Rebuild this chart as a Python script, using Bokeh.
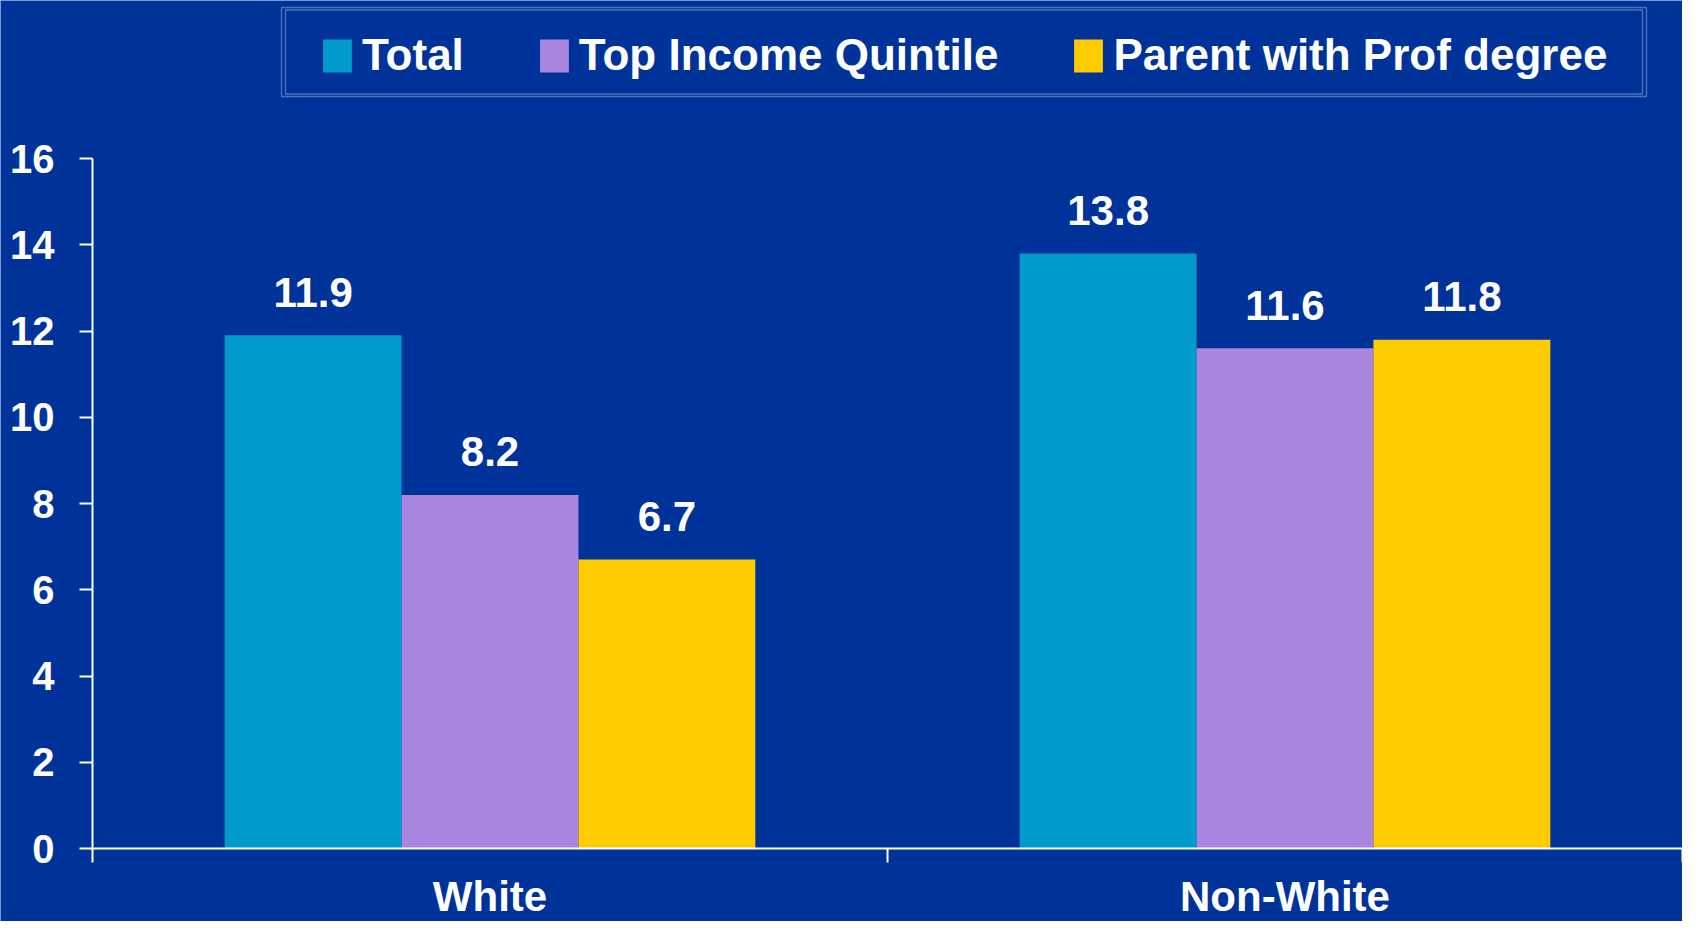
import numpy as np
from bokeh.plotting import figure
from bokeh.models import (Range1d, FixedTicker, LinearAxis, Legend, LegendItem,
                          BoxAnnotation, ColumnDataSource)
from bokeh.core.properties import value
from bokeh.embed import file_html
from bokeh.resources import INLINE

# ---- data ----
categories = ["White", "Non-White"]
series = ["Total", "Top Income Quintile", "Parent with Prof degree"]
total = [11.9, 13.8]
top_income = [8.2, 11.6]
prof_parent = [6.7, 11.8]
y_ticks = [0, 2, 4, 6, 8, 10, 12, 14, 16]
y_max = 16

# ---- style / layout ----
BG = "#003399"
COLORS = ["#009ACD", "#A886DF", "#FFCC00"]
FONT = "Liberation Sans"
W, H = 1682, 921
AXIS_X = 92                    # canvas x of the value axis
AXIS_Y = 848                   # canvas y of the value-0 line
AXIS_TOP_GAP = 158             # canvas y of the value-16 line (legend area above)
n = len(categories)
px_per_y = (AXIS_Y - AXIS_TOP_GAP) / y_max
px_per_x = (W - AXIS_X) / n
x_start = -AXIS_X / px_per_x
y_start = -(H - AXIS_Y) / px_per_y
y_end = AXIS_Y / px_per_y

p = figure(width=W, height=H, output_backend="svg", toolbar_location=None,
           x_range=Range1d(x_start, n), y_range=Range1d(y_start, y_end),
           x_axis_location=None, y_axis_location=None,
           min_border_left=0, min_border_right=0, min_border_top=0,
           min_border_bottom=0,
           background_fill_color=BG, border_fill_color=BG, outline_line_color=None)
p.grid.visible = False

yaxis = LinearAxis(ticker=FixedTicker(ticks=y_ticks), bounds=(0, y_max),
                   fixed_location=0,
                   axis_line_color="white", axis_line_width=2,
                   major_tick_line_color="white", major_tick_line_width=2,
                   major_tick_in=0, major_tick_out=13,
                   minor_tick_line_color=None,
                   major_label_text_color="white", major_label_text_font=FONT,
                   major_label_text_font_style="bold",
                   major_label_text_font_size="40px", major_label_standoff=25)
p.add_layout(yaxis, "left")

xaxis = LinearAxis(ticker=FixedTicker(ticks=[i + 0.5 for i in range(n)],
                                      minor_ticks=list(range(n + 1))),
                   bounds=(0, n), fixed_location=0,
                   major_label_overrides={i + 0.5: c for i, c in enumerate(categories)},
                   axis_line_color="white", axis_line_width=2,
                   major_tick_line_color=None, major_tick_in=0, major_tick_out=0,
                   minor_tick_line_color="white", minor_tick_line_width=2,
                   minor_tick_in=0, minor_tick_out=14,
                   major_label_text_color="white", major_label_text_font=FONT,
                   major_label_text_font_style="bold",
                   major_label_text_font_size="42px", major_label_standoff=10)
p.add_layout(xaxis, "below")

xs = np.arange(n) + 0.5
w = 0.2225
items = []
for k, (name, vals, col) in enumerate(zip(series, [total, top_income, prof_parent], COLORS)):
    src = ColumnDataSource(dict(x=xs + (k - 1) * w, top=vals,
                                label=[f"{v:.1f}" for v in vals]))
    r = p.vbar(x="x", top="top", width=w, bottom=0, source=src,
               fill_color=col, line_color=None)
    p.text(x="x", y="top", text="label", source=src, text_align="center",
           text_baseline="alphabetic", y_offset=-43, text_color="white",
           text_font=value(FONT), text_font_style="bold", text_font_size="42px")
    items.append(LegendItem(label=name, renderers=[r]))

legend = Legend(items=items, orientation="horizontal", location=(319, H - 80),
                glyph_width=36, glyph_height=41, label_standoff=7, spacing=72,
                padding=0, margin=0,
                label_text_font=FONT, label_text_font_style="bold",
                label_text_font_size="44px", label_text_color="white",
                border_line_alpha=0, background_fill_alpha=0)
p.add_layout(legend, "center")

# double frame around the legend
for (l, r_, t, b) in [(281, 1646, 7, 96), (285, 1642, 9.5, 93.5)]:
    p.add_layout(BoxAnnotation(left=l, right=r_, top=t, bottom=b,
                               left_units="canvas", right_units="canvas",
                               top_units="canvas", bottom_units="canvas",
                               fill_alpha=0, line_color="white", line_width=1.3))

open("out.html", "w").write(file_html(p, INLINE))
